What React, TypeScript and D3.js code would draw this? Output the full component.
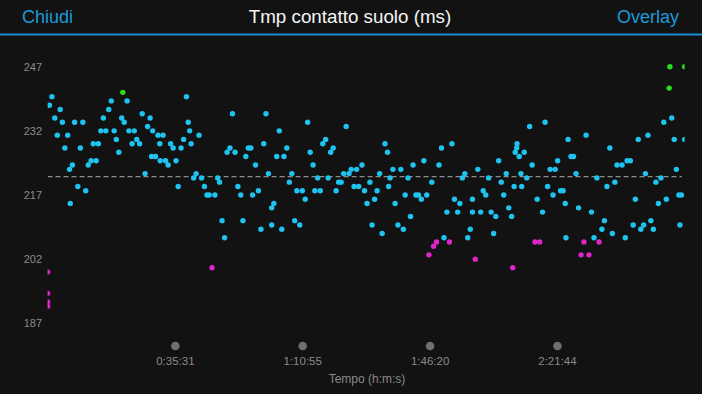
import * as d3 from "d3";
import { useEffect, useRef } from "react";

const W = 702;
const H = 394;

// minuti dall'inizio dell'attività
const times = [
  0, 0, 0, 0, 0.5, 1.2, 2.0, 2.7, 3.5, 4.1, 4.8, 5.6, 6.1, 6.3, 6.9, 7.5, 8.4, 9.1, 9.8, 10.6,
  11.3, 12.1, 12.7, 13.5, 14.1, 14.8, 15.5, 16.2, 17.0, 17.7, 18.5, 19.1, 19.8, 20.6, 20.9, 21.3, 22.1, 22.6, 23.5, 24.1,
  24.8, 25.6, 26.3, 27.1, 27.8, 28.5, 28.9, 29.2, 30.0, 30.7, 31.2, 31.3, 32.1, 32.8, 33.5, 34.2, 34.9, 35.7, 36.3, 37.1,
  37.8, 38.6, 39.1, 39.5, 39.9, 40.6, 41.3, 42.1, 42.8, 43.6, 44.3, 44.9, 45.7, 46.5, 47.3, 47.8, 48.5, 49.2, 49.9, 50.7,
  51.4, 52.1, 52.9, 53.7, 54.3, 55.1, 55.8, 56.5, 57.0, 57.8, 58.6, 59.3, 60.1, 60.7, 61.4, 62.3, 62.3, 62.9, 63.7, 64.4,
  65.1, 65.7, 66.5, 67.2, 67.9, 68.7, 69.3, 70.1, 70.8, 71.6, 72.3, 73.0, 73.8, 74.3, 75.1, 75.8, 76.5, 77.3, 78.0, 78.7,
  79.4, 80.2, 80.9, 81.6, 82.3, 83.0, 83.8, 84.4, 85.2, 85.9, 86.5, 87.4, 88.1, 88.8, 89.6, 90.2, 90.9, 91.6, 92.3, 93.0,
  93.8, 94.5, 94.8, 95.2, 96.0, 96.6, 97.4, 98.2, 98.9, 99.4, 100.2, 100.9, 101.6, 102.4, 103.1, 103.9, 104.6, 105.4, 106.0, 106.8,
  107.3, 108.1, 108.8, 109.5, 110.2, 111.0, 111.7, 112.4, 113.1, 114.0, 114.6, 115.3, 116.0, 116.8, 117.5, 118.1, 118.1, 118.9, 119.6, 120.4,
  121.1, 121.8, 122.6, 123.3, 124.0, 124.6, 125.4, 126.1, 126.8, 127.5, 128.2, 129.0, 129.3, 129.7, 130.0, 130.4, 130.5, 131.1, 131.6, 131.8,
  132.5, 133.2, 134.0, 134.7, 135.5, 136.1, 136.8, 137.6, 138.3, 139.0, 139.7, 140.5, 141.1, 141.8, 142.6, 143.3, 143.9, 144.1, 144.7, 145.5,
  146.2, 146.9, 147.6, 148.3, 149.1, 149.7, 150.5, 151.2, 151.9, 152.7, 153.3, 154.1, 154.8, 155.5, 156.3, 157.0, 157.7, 158.3, 159.7, 160.6,
  161.1, 162.0, 162.8, 163.4, 164.2, 164.9, 165.7, 166.2, 166.9, 167.7, 168.4, 169.1, 169.8, 170.5, 171.3, 172.0, 172.8, 173.0, 173.5, 174.2,
  174.8, 175.5, 175.8, 176.2, 177.1, 177.1,
];

// tempo di contatto col suolo (ms)
const gct = [
  199, 194, 192, 191, 238, 240, 235, 231, 237, 234, 228, 231, 223, 215, 224, 234, 219, 228, 234, 218,
  224, 225, 229, 225, 229, 232, 235, 232, 237, 239, 232, 230, 227, 235, 241, 234, 239, 232, 229, 232,
  230, 229, 236, 222, 233, 235, 226, 232, 226, 231, 229, 225, 231, 225, 224, 229, 228, 225, 219, 228,
  230, 240, 234, 232, 229, 221, 222, 231, 221, 219, 217, 217, 200, 217, 221, 220, 211, 207, 227, 228,
  236, 227, 219, 217, 211, 226, 228, 228, 217, 224, 218, 209, 229, 236, 222, 214, 210, 215, 226, 232,
  209, 226, 228, 220, 222, 211, 218, 210, 218, 216, 234, 227, 224, 218, 221, 218, 229, 230, 221, 227,
  228, 218, 220, 220, 222, 233, 222, 223, 219, 223, 219, 224, 218, 215, 220, 210, 216, 218, 222, 208,
  229, 227, 219, 221, 223, 215, 210, 223, 209, 217, 221, 212, 224, 217, 217, 216, 225, 217, 203, 220,
  205, 206, 224, 228, 207, 213, 206, 229, 216, 213, 215, 221, 222, 207, 209, 216, 213, 202, 223, 213,
  218, 217, 221, 213, 208, 212, 225, 220, 217, 222, 214, 212, 200, 219, 227, 228, 229, 226, 222, 219,
  227, 221, 233, 224, 206, 216, 206, 213, 234, 219, 223, 217, 223, 225, 218, 218, 215, 207, 230, 226,
  226, 222, 214, 203, 206, 231, 203, 213, 207, 221, 206, 209, 211, 219, 228, 208, 220, 224, 224, 207,
  225, 225, 210, 216, 230, 209, 210, 222, 231, 211, 209, 220, 215, 221, 234, 216, 242, 247, 235, 230,
  223, 217, 210, 217, 247, 230,
];

const yTicks = [187, 202, 217, 232, 247];
const xTicks = [2131, 4255, 6380, 8504]; // secondi
const totalSec = 10625;
const avgGct = 221.3;

function fmtTime(s: number) {
  const h = Math.floor(s / 3600);
  const m = Math.floor((s % 3600) / 60);
  const ss = s % 60;
  return `${h}:${String(m).padStart(2, "0")}:${String(ss).padStart(2, "0")}`;
}

export default function App() {
  const ref = useRef<SVGSVGElement>(null);

  useEffect(() => {
    const svg = d3.select(ref.current);
    svg.selectAll("*").remove();
    const font = "'Liberation Sans', Arial, Helvetica, sans-serif";

    const x = d3.scaleLinear().domain([0, totalSec]).range([47.6, 684.6]);
    const y = d3.scaleLinear().domain([187, 247]).range([323.3, 66.7]);
    const color = d3
      .scaleThreshold<number, string>()
      .domain([206.5, 240.5])
      .range(["#e024cc", "#1fc3f0", "#26e01c"]);

    svg.append("rect").attr("width", W).attr("height", H).attr("fill", "#121212");

    // header
    svg.append("text").attr("x", 22).attr("y", 22.5).text("Chiudi")
      .attr("fill", "#1e9ad8").style("font", `18px ${font}`);
    svg.append("text").attr("x", 350).attr("y", 22.5).attr("text-anchor", "middle")
      .text("Tmp contatto suolo (ms)").attr("fill", "#f5f5f5").style("font", `18.8px ${font}`);
    svg.append("text").attr("x", 679).attr("y", 22.5).attr("text-anchor", "end").text("Overlay")
      .attr("fill", "#1e9ad8").style("font", `18px ${font}`);
    svg.append("line").attr("x1", 0).attr("x2", W).attr("y1", 34.5).attr("y2", 34.5)
      .attr("stroke", "#1b8ed2").attr("stroke-width", 2);

    // asse y
    svg.append("g").selectAll("text").data(yTicks).enter().append("text")
      .attr("x", 42).attr("y", (d) => y(d) + 4).attr("text-anchor", "end")
      .text((d) => d).attr("fill", "#8a8a8a").style("font", `11px ${font}`);

    // asse x
    const xa = svg.append("g");
    xa.selectAll("circle").data(xTicks).enter().append("circle")
      .attr("cx", (d) => x(d)).attr("cy", 346).attr("r", 4.3).attr("fill", "#6f6f6f");
    xa.selectAll("text").data(xTicks).enter().append("text")
      .attr("x", (d) => x(d)).attr("y", 365).attr("text-anchor", "middle")
      .text((d) => fmtTime(d)).attr("fill", "#8a8a8a").style("font", `11.5px ${font}`);
    svg.append("text").attr("x", 367).attr("y", 382.5).attr("text-anchor", "middle")
      .text("Tempo (h:m:s)").attr("fill", "#8a8a8a").style("font", `12px ${font}`);

    svg.append("defs").append("clipPath").attr("id", "plotClip")
      .append("rect").attr("x", 47.6).attr("y", 40).attr("width", 637).attr("height", 295);

    const plot = svg.append("g").attr("clip-path", "url(#plotClip)");

    // linea della media
    plot.append("line").attr("x1", 47.6).attr("x2", 682).attr("y1", y(avgGct)).attr("y2", y(avgGct))
      .attr("stroke", "#8c8c8c").attr("stroke-width", 1.3).attr("stroke-dasharray", "5,3");

    plot.selectAll("circle").data(gct).enter().append("circle")
      .attr("cx", (d, i) => x(times[i] * 60))
      .attr("cy", (d) => y(d))
      .attr("r", 2.7)
      .attr("fill", (d) => color(d));
  }, []);

  return (
    <svg
      ref={ref}
      width={W}
      height={H}
      style={{ position: "absolute", left: 0, top: 0, display: "block" }}
    />
  );
}
